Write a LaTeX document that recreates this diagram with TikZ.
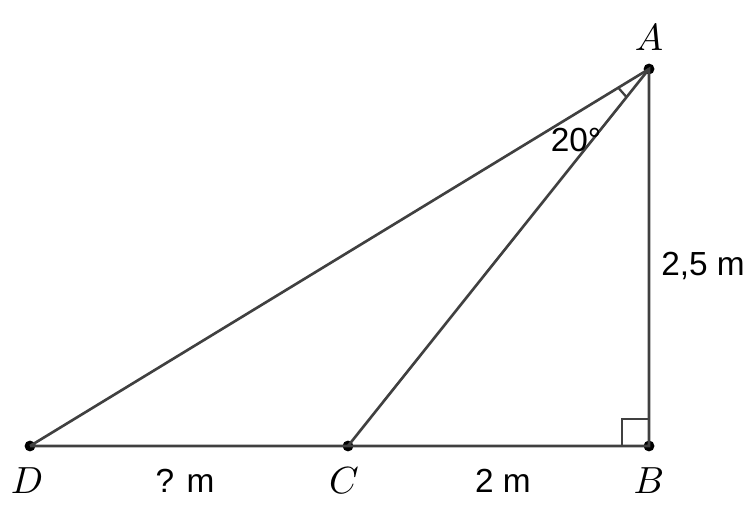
\documentclass[tikz,border=0pt]{standalone}
\usepackage{fontspec}
\setmainfont{Liberation Sans}
\usepackage{amsmath}
\usepackage{graphicx}
\usepackage{tikz}
\usetikzlibrary{calc}
\definecolor{linegray}{RGB}{64,64,64}
\newcommand{\vname}[1]{\scalebox{2.15}{$#1$}}

\begin{document}
\begin{tikzpicture}[x=0.02cm,y=0.02cm,
	side/.style={draw=linegray,line width=1.5pt},
	pt/.style={circle,fill=black,inner sep=0pt,minimum size=6.2pt},
	lbl/.style={font=\fontsize{19}{22}\selectfont}]
		\useasboundingbox (0,0) rectangle (756,510);
		
		% points
		\node[pt] (A) at (649,441) {};
		\node[pt] (B) at (649,64) {};
		\node[pt] (C) at (348,64) {};
		\node[pt] (D) at (30,64) {};
		
		% draw triangle sides
		\draw[side] (D.center) -- (B.center) -- (A.center) -- (D.center);
		\draw[side] (C.center) -- (A.center);
		
		% right angle at B and angle mark at A
		\draw[side,line width=1.3pt] ($(B.center)+(-27,0)$) -- ++(0,27) -- ++(27,0);
		\draw[side,line width=1.3pt] ($(A.center)!0.72cm!(D.center)$) -- ($(A.center)!0.72cm!(C.center)$);
		
		% vertex names
		\node (nA) at (649,472) {\vname{A}};
		\node (nB) at (649,29) {\vname{B}};
		\node (nC) at (344,29) {\vname{C}};
		\node (nD) at (27,29) {\vname{D}};
		
		% lengths and angle
		\node[lbl] (dc) at (185,29) {? m};
		\node[lbl] (cb) at (503,29) {2 m};
		\node[lbl] (ab) at (703,244) {2,5 m};
		\node[lbl] (ang) at (576,370) {20°};
\end{tikzpicture}
\end{document}
